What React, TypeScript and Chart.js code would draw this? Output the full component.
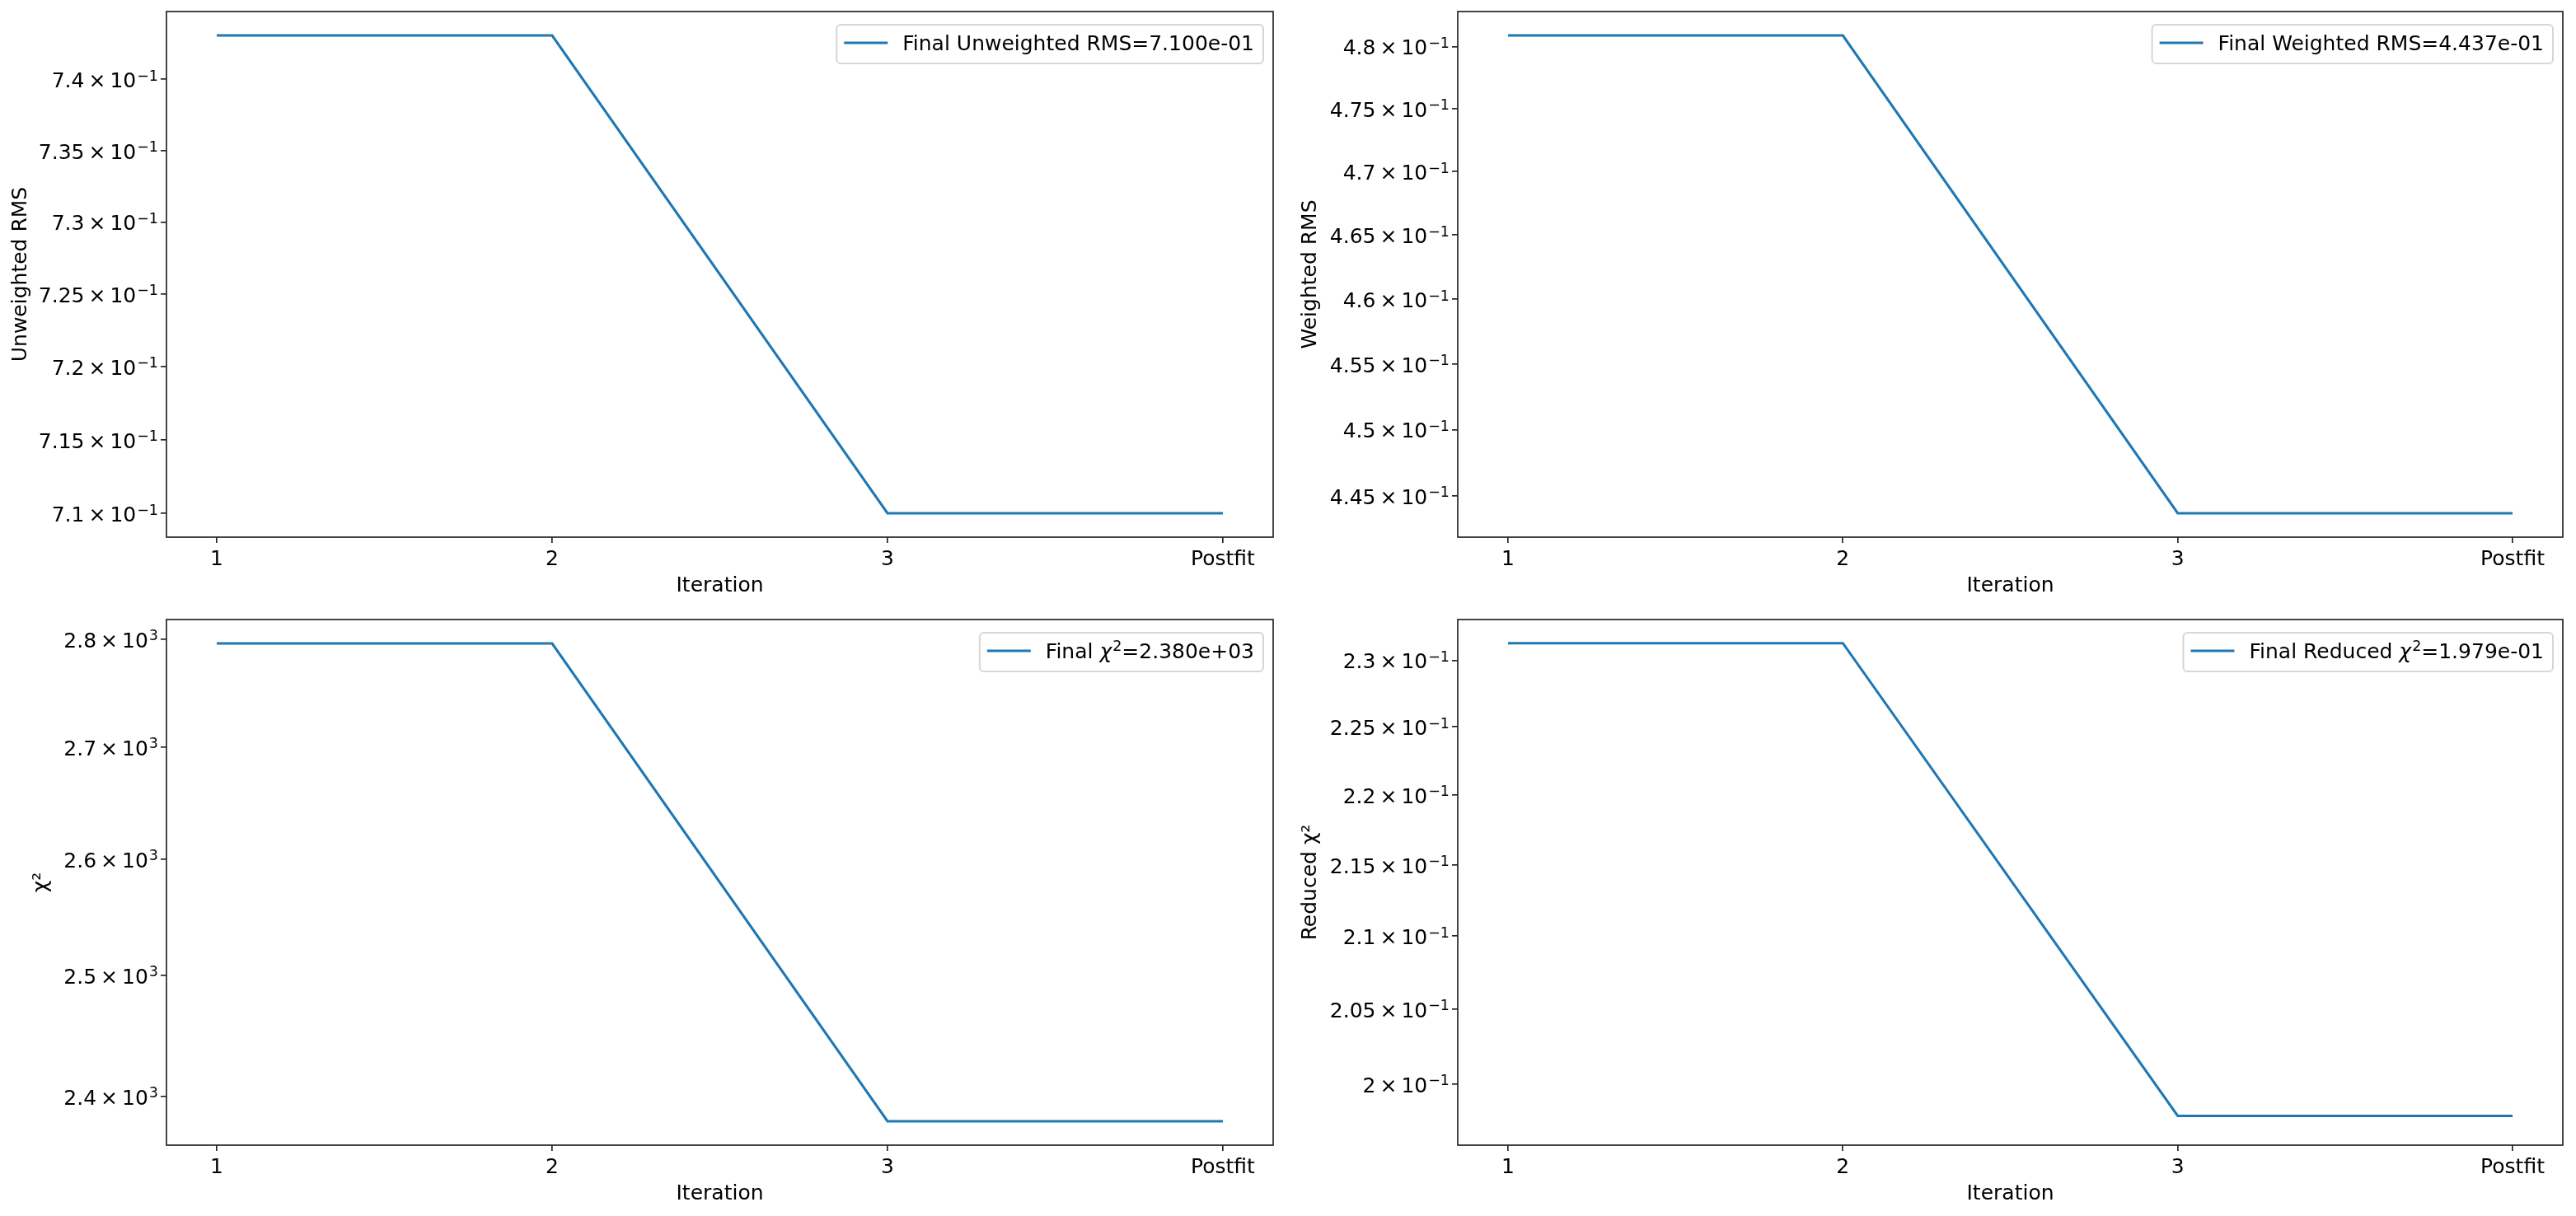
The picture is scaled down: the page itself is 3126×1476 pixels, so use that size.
import React, { useEffect, useRef } from 'react';
import { Chart, registerables } from 'chart.js';

Chart.register(...registerables);

// ---------- data ----------
const iterationLabels = ['1', '2', '3', 'Postfit'];

const unweightedRms = [0.7431, 0.7431, 0.71, 0.71];
const weightedRms = [0.4809, 0.4809, 0.4437, 0.4437];
const chiSquared = [2796, 2796, 2380, 2380];
const reducedChiSquared = [0.2313, 0.2313, 0.1979, 0.1979];

const unweightedTicks = [0.71, 0.715, 0.72, 0.725, 0.73, 0.735, 0.74];
const weightedTicks = [0.445, 0.45, 0.455, 0.46, 0.465, 0.47, 0.475, 0.48];
const chiTicks = [2400, 2500, 2600, 2700, 2800];
const reducedTicks = [0.2, 0.205, 0.21, 0.215, 0.22, 0.225, 0.23];

const FONT = "'DejaVu Sans', 'Noto Sans', sans-serif";
const LINE_COLOR = '#1f77b4';
const SPINE = '#262626';
const FS = 25;
const SFS = 17.5;

function tickParts(v: number) {
  const e = Math.floor(Math.log10(v) + 1e-9);
  const m = parseFloat((v / Math.pow(10, e)).toPrecision(4));
  return { mant: String(m), exp: String(e).replace('-', '\u2212') };
}

function expText(v: number): string {
  const [m, e] = v.toExponential(3).split('e');
  const n = parseInt(e, 10);
  return `${m}e${n < 0 ? '-' : '+'}${String(Math.abs(n)).padStart(2, '0')}`;
}

// draw a string where "χ²" is rendered like mathtext (italic chi, raised 2)
function drawMathText(ctx: any, text: string, x: number, base: number, measureOnly: boolean): number {
  const parts = text.split('χ²');
  let cx = x;
  parts.forEach((part, i) => {
    if (i > 0) {
      ctx.font = `italic ${FS}px ${FONT}`;
      const wc = ctx.measureText('χ').width;
      if (!measureOnly) ctx.fillText('χ', cx, base);
      cx += wc + 1;
      ctx.font = `${SFS}px ${FONT}`;
      const w2 = ctx.measureText('2').width;
      if (!measureOnly) ctx.fillText('2', cx, base - 9);
      cx += w2;
    }
    ctx.font = `${FS}px ${FONT}`;
    const w = ctx.measureText(part).width;
    if (!measureOnly) ctx.fillText(part, cx, base);
    cx += w;
  });
  return cx - x;
}

type PanelProps = {
  left: number;
  top: number;
  values: number[];
  ticks: number[];
  yTitle: string;
  legendLabel: string;
  yWidth: number;
  rightPad: number;
  yTitlePad: number;
};

const W = 1563;
const H = 738;

function Panel(p: PanelProps) {
  const ref = useRef<HTMLCanvasElement | null>(null);
  useEffect(() => {
    if (!ref.current) return;
    const lo = Math.min(...p.values);
    const hi = Math.max(...p.values);
    const span = Math.log(hi / lo);
    const yMin = lo * Math.exp(-0.05 * span);
    const yMax = hi * Math.exp(0.05 * span);

    const framePlugin = {
      id: 'frame',
      afterDatasetsDraw(chart: any) {
        const a = chart.chartArea;
        const ctx = chart.ctx;
        ctx.save();
        ctx.strokeStyle = SPINE;
        ctx.lineWidth = 1.7;
        ctx.strokeRect(a.left, a.top, a.right - a.left, a.bottom - a.top);
        ctx.restore();
      },
    };

    const yLabelPlugin = {
      id: 'yMathLabels',
      afterDraw(chart: any) {
        const s = chart.scales.y;
        const ctx = chart.ctx;
        const xr = chart.chartArea.left - 10;
        ctx.save();
        ctx.fillStyle = '#000';
        ctx.textBaseline = 'alphabetic';
        ctx.textAlign = 'left';
        for (const t of s.ticks) {
          const y = s.getPixelForValue(t.value);
          const { mant, exp } = tickParts(t.value);
          ctx.font = `${FS}px ${FONT}`;
          const wM = ctx.measureText(mant).width;
          const wX = ctx.measureText('×').width;
          const wT = ctx.measureText('10').width;
          ctx.font = `${SFS}px ${FONT}`;
          const wE = ctx.measureText(exp).width;
          const gap = 5;
          const total = wM + gap + wX + gap + wT + 1 + wE;
          let x = xr - total;
          const base = y + 10;
          ctx.font = `${FS}px ${FONT}`;
          ctx.fillText(mant, x, base);
          x += wM + gap;
          ctx.fillText('×', x, base);
          x += wX + gap;
          ctx.fillText('10', x, base);
          x += wT + 1;
          ctx.font = `${SFS}px ${FONT}`;
          ctx.fillText(exp, x, base - 8.5);
        }
        ctx.restore();
      },
    };

    const legendPlugin = {
      id: 'mplLegend',
      afterDraw(chart: any) {
        const a = chart.chartArea;
        const ctx = chart.ctx;
        const ds = chart.data.datasets[0];
        ctx.save();
        const tw = drawMathText(ctx, ds.label, 0, 0, true);
        const boxW = 9 + 53 + 18 + tw + 11;
        const boxH = 47;
        const x0 = a.right - 12 - boxW;
        const y0 = a.top + 16;
        ctx.beginPath();
        ctx.roundRect(x0, y0, boxW, boxH, 5);
        ctx.fillStyle = 'rgba(255,255,255,0.8)';
        ctx.fill();
        ctx.lineWidth = 2;
        ctx.strokeStyle = 'rgba(204,204,204,0.8)';
        ctx.stroke();
        ctx.beginPath();
        ctx.moveTo(x0 + 9, y0 + 22);
        ctx.lineTo(x0 + 62, y0 + 22);
        ctx.strokeStyle = ds.borderColor;
        ctx.lineWidth = 3.1;
        ctx.stroke();
        ctx.fillStyle = '#000';
        ctx.textBaseline = 'alphabetic';
        ctx.textAlign = 'left';
        drawMathText(ctx, ds.label, x0 + 80, y0 + 31, false);
        ctx.restore();
      },
    };

    const chart = new Chart(ref.current, {
      type: 'line',
      data: {
        datasets: [
          {
            label: p.legendLabel,
            data: p.values.map((v, i) => ({ x: i, y: v })),
            borderColor: LINE_COLOR,
            backgroundColor: LINE_COLOR,
            borderWidth: 3.1,
            pointRadius: 0,
            tension: 0,
            fill: false,
          },
        ],
      },
      options: {
        animation: false,
        responsive: false,
        devicePixelRatio: 1,
        layout: { padding: { left: 0, top: 14, right: p.rightPad, bottom: 0 } },
        plugins: { legend: { display: false }, tooltip: { enabled: false } },
        scales: {
          x: {
            type: 'linear',
            min: -0.15,
            max: iterationLabels.length - 1 + 0.15,
            afterBuildTicks: (s: any) => {
              s.ticks = iterationLabels.map((_, i) => ({ value: i }));
            },
            afterFit: (s: any) => {
              s.height = 86;
              s.paddingLeft = 0;
              s.paddingRight = 0;
            },
            ticks: {
              autoSkip: false,
              maxRotation: 0,
              padding: 5,
              color: '#000',
              font: { family: FONT, size: FS },
              callback: (v: any) => iterationLabels[Math.round(Number(v))] ?? '',
            },
            grid: {
              display: true,
              drawOnChartArea: false,
              drawTicks: true,
              tickLength: 7,
              lineWidth: 1.7,
              color: SPINE,
            },
            border: { display: false },
            title: {
              display: true,
              text: 'Iteration',
              color: '#000',
              font: { family: FONT, size: FS },
              padding: { top: 0, bottom: 12 },
            },
          },
          y: {
            type: 'logarithmic',
            min: yMin,
            max: yMax,
            afterBuildTicks: (s: any) => {
              s.ticks = p.ticks.map((v) => ({ value: v }));
            },
            afterFit: (s: any) => {
              s.width = p.yWidth;
              s.paddingTop = 0;
              s.paddingBottom = 0;
            },
            ticks: {
              display: false,
              autoSkip: false,
            },
            grid: {
              display: true,
              drawOnChartArea: false,
              drawTicks: true,
              tickLength: 7,
              lineWidth: 1.7,
              color: SPINE,
            },
            border: { display: false },
            title: {
              display: true,
              text: p.yTitle,
              color: '#000',
              font: { family: FONT, size: FS },
              padding: { top: p.yTitlePad, bottom: 0 },
            },
          },
        },
      } as any,
      plugins: [framePlugin, yLabelPlugin, legendPlugin],
    });
    return () => chart.destroy();
  }, []);
  return (
    <canvas
      ref={ref}
      width={W}
      height={H}
      style={{ position: 'absolute', left: p.left, top: p.top, width: W, height: H }}
    />
  );
}

export default function App() {
  const last = (a: number[]) => a[a.length - 1];
  return (
    <div
      style={{
        position: 'fixed',
        left: 0,
        top: 0,
        width: 3126,
        height: 1476,
        background: '#fff',
        overflow: 'hidden',
      }}
    >
      <Panel
        left={0}
        top={0}
        values={unweightedRms}
        ticks={unweightedTicks}
        yTitle="Unweighted RMS"
        legendLabel={`Final Unweighted RMS=${expText(last(unweightedRms))}`}
        yWidth={202}
        rightPad={18}
        yTitlePad={10}
      />
      <Panel
        left={1563}
        top={0}
        values={weightedRms}
        ticks={weightedTicks}
        yTitle="Weighted RMS"
        legendLabel={`Final Weighted RMS=${expText(last(weightedRms))}`}
        yWidth={206}
        rightPad={16}
        yTitlePad={12}
      />
      <Panel
        left={0}
        top={738}
        values={chiSquared}
        ticks={chiTicks}
        yTitle="χ²"
        legendLabel={`Final χ²=${expText(last(chiSquared))}`}
        yWidth={202}
        rightPad={18}
        yTitlePad={35}
      />
      <Panel
        left={1563}
        top={738}
        values={reducedChiSquared}
        ticks={reducedTicks}
        yTitle="Reduced χ²"
        legendLabel={`Final Reduced χ²=${expText(last(reducedChiSquared))}`}
        yWidth={206}
        rightPad={16}
        yTitlePad={12}
      />
    </div>
  );
}
